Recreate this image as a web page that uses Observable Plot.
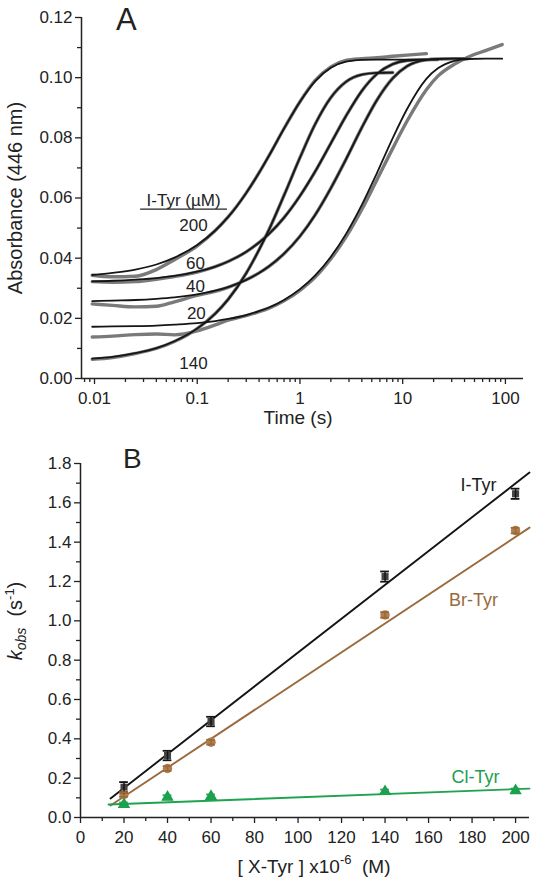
<!DOCTYPE html>
<html><head><meta charset="utf-8">
<script src="https://cdn.jsdelivr.net/npm/d3@7"></script>
<script src="https://cdn.jsdelivr.net/npm/@observablehq/plot@0.6"></script>
<style>
body{margin:0;background:#fff;}
#wrap{position:relative;width:534px;height:884px;overflow:hidden;background:#fff}
#wrap > svg{position:absolute;left:0}
</style></head><body><div id="wrap"></div>
<script>
const FONT = "'Liberation Sans', Arial, Helvetica, sans-serif";

// ---------- Panel A data (time in s, absorbance at 446 nm) ----------
const times = [0.0095, 0.015, 0.025, 0.04, 0.06, 0.1, 0.15, 0.2, 0.3, 0.4, 0.5, 0.7, 1, 1.4, 2, 2.8, 4, 5.6, 8, 11, 17, 22, 32, 43, 64, 93];
const concA = ["200", "140", "60", "40", "20"];
// fitted curves (black)
const fit200 = [0.0344,0.0351,0.0362,0.0379,0.0402,0.0444,0.0492,0.0537,0.0617,0.0684,0.0741,0.0831,0.0920,0.0988,0.1033,0.1053,0.1059,0.1060,0.1060,0.1060,0.1060,null,null,null,null,null];
const fit140 = [0.0066,0.0072,0.0084,0.0101,0.0124,0.0166,0.0216,0.0263,0.0350,0.0428,0.0495,0.0609,0.0734,0.0844,0.0934,0.0986,0.1010,0.1016,0.1017,null,null,null,null,null,null,null];
const fit60  = [0.0323,0.0325,0.0329,0.0334,0.0341,0.0355,0.0372,0.0389,0.0421,0.0452,0.0481,0.0535,0.0607,0.0687,0.0782,0.0872,0.0956,0.1012,0.1045,0.1057,0.1060,0.1060,null,null,null,null];
const fit40  = [0.0257,0.0259,0.0261,0.0265,0.0270,0.0280,0.0292,0.0304,0.0328,0.0351,0.0373,0.0415,0.0473,0.0543,0.0633,0.0728,0.0834,0.0925,0.0998,0.1038,0.1059,0.1062,0.1063,0.1063,null,null];
const fit20  = [0.0172,0.0173,0.0174,0.0176,0.0179,0.0184,0.0191,0.0198,0.0211,0.0224,0.0236,0.0261,0.0297,0.0342,0.0405,0.0480,0.0577,0.0682,0.0799,0.0895,0.0996,0.1031,0.1056,0.1062,0.1063,0.1063];
// measured traces (grey)
const dat200 = [0.0343,0.0338,0.0340,0.0362,0.0395,0.0441,0.0492,0.0537,0.0617,0.0684,0.0741,0.0831,0.0920,0.0990,0.1036,0.1057,0.1063,0.1066,0.1071,0.1075,0.1080,null,null,null,null,null];
const dat140 = [0.0064,0.0070,0.0083,0.0100,0.0123,0.0166,0.0216,0.0263,0.0350,0.0428,0.0495,0.0609,0.0734,0.0844,0.0934,0.0986,0.1010,0.1016,0.1017,null,null,null,null,null,null,null];
const dat60  = [0.0322,0.0320,0.0322,0.0330,0.0339,0.0354,0.0372,0.0389,0.0421,0.0452,0.0481,0.0535,0.0607,0.0687,0.0782,0.0872,0.0956,0.1012,0.1045,0.1057,0.1060,0.1060,null,null,null,null];
const dat40  = [0.0248,0.0243,0.0238,0.0240,0.0255,0.0276,0.0290,0.0303,0.0328,0.0351,0.0373,0.0415,0.0473,0.0543,0.0633,0.0728,0.0834,0.0925,0.0998,0.1038,0.1059,0.1062,0.1063,0.1063,null,null];
const dat20  = [0.0138,0.0141,0.0146,0.0148,0.0145,0.0158,0.0178,0.0194,0.0209,0.0222,0.0234,0.0258,0.0293,0.0336,0.0398,0.0470,0.0562,0.0660,0.0765,0.0855,0.0960,0.1005,0.1045,0.1068,0.1090,0.1110];

const xTicksA = [0.01, 0.1, 1, 10, 100];
const xMinorA = [0.008,0.009,0.02,0.03,0.04,0.05,0.06,0.07,0.08,0.09,0.2,0.3,0.4,0.5,0.6,0.7,0.8,0.9,2,3,4,5,6,7,8,9,20,30,40,50,60,70,80,90];
const yTicksA = [0, 0.02, 0.04, 0.06, 0.08, 0.10, 0.12];
const yMinorA = [0.01, 0.03, 0.05, 0.07, 0.09, 0.11];

// annotation positions (data coordinates) for panel A
const labelsA = [
  {t: 0.092, a: 0.0510, s: "200"},
  {t: 0.096, a: 0.0383, s: "60"},
  {t: 0.096, a: 0.0307, s: "40"},
  {t: 0.098, a: 0.0217, s: "20"},
  {t: 0.092, a: 0.0050, s: "140"}
];
const legendA = {t: 0.0737, a: 0.0593, s: "I-Tyr (\u00B5M)", t1: 0.0281, t2: 0.197, line: 0.0563};

// ---------- Panel B data ----------
const conc = [20, 40, 60, 140, 200];
const kI  = [0.154, 0.315, 0.488, 1.225, 1.646];
const kBr = [0.117, 0.249, 0.383, 1.030, 1.459];
const kCl = [0.066, 0.103, 0.107, 0.132, 0.137];
const eI  = [0.026, 0.024, 0.024, 0.026, 0.026];
const eBr = [0.012, 0.012, 0.012, 0.014, 0.014];
const eCl = [0.010, 0.010, 0.010, 0.010, 0.010];
const fitIx = [13.8, 206.4],  fitIy = [0.097, 1.754];
const fitBrx = [13.8, 206.4], fitBry = [0.061, 1.474];
const fitClx = [12.9, 206.4], fitCly = [0.066, 0.147];
const xTicksB = [0,20,40,60,80,100,120,140,160,180,200];
const xMinorB = [10,30,50,70,90,110,130,150,170,190];
const yTicksB = [0,0.2,0.4,0.6,0.8,1.0,1.2,1.4,1.6,1.8];
const yMinorB = [0.1,0.3,0.5,0.7,0.9,1.1,1.3,1.5,1.7];
const seriesB = ["I-Tyr", "Br-Tyr", "Cl-Tyr"];
const labelsB = [
  {x: 183, y: 1.688, s: "I-Tyr", c: "#1a1a1a"},
  {x: 180.7, y: 1.103, s: "Br-Tyr", c: "#9a6a3c"},
  {x: 181.6, y: 0.206, s: "Cl-Tyr", c: "#1e9e4c"}
];

// ---------- build tables ----------
function rows(list) {
  const out = [];
  for (const [c, vals] of list) vals.forEach((v, i) => out.push({c, t: times[i], a: v}));
  return out;
}
const fitRows = rows([["200", fit200], ["140", fit140], ["60", fit60], ["40", fit40], ["20", fit20]]);
const datRows = rows([["200", dat200], ["140", dat140], ["60", dat60], ["40", dat40], ["20", dat20]]);

const pts = [];
[[seriesB[0], kI, eI], [seriesB[1], kBr, eBr], [seriesB[2], kCl, eCl]].forEach(([s, k, e]) =>
  conc.forEach((x, i) => pts.push({s, x, y: k[i], lo: k[i] - e[i], hi: k[i] + e[i]})));
const fitB = [];
[[seriesB[0], fitIx, fitIy], [seriesB[1], fitBrx, fitBry], [seriesB[2], fitClx, fitCly]].forEach(([s, xs, ys]) =>
  xs.forEach((x, i) => fitB.push({s, x, y: ys[i]})));
const colB = {"I-Tyr": "#151515", "Br-Tyr": "#9a6a3c", "Cl-Tyr": "#1ea34f"};
const fillB = {"I-Tyr": "#444444", "Br-Tyr": "#b37f4c", "Cl-Tyr": "#1a9e4b"};
const symB = {"I-Tyr": "square", "Br-Tyr": "circle", "Cl-Tyr": "triangle"};
const rB = {"I-Tyr": 4.0, "Br-Tyr": 4.7, "Cl-Tyr": 4.6};

const AX = "#222";
const style = {fontFamily: FONT, fontSize: "17px", color: AX, background: "transparent", overflow: "visible"};

const plotA = Plot.plot({
  width: 534, height: 430,
  marginLeft: 81, marginRight: 11, marginTop: 17, marginBottom: 52,
  style,
  x: {type: "log", domain: [0.00747, 150], axis: null},
  y: {domain: [0, 0.12], axis: null},
  marks: [
    Plot.axisY(yTicksA, {tickSize: 6, tickPadding: 3, tickFormat: d3.format(".2f"), label: null, strokeWidth: 1.3}),
    Plot.axisY(yMinorA, {tickSize: 4, tickFormat: () => "", label: null, strokeWidth: 1.3}),
    Plot.axisX(xTicksA, {tickSize: 6, tickPadding: 7, tickFormat: d => String(d), label: null, strokeWidth: 1.3}),
    Plot.axisX(xMinorA, {tickSize: 4, tickFormat: () => "", label: null, strokeWidth: 1.3}),
    Plot.ruleX([0.00747], {y1: 0, y2: 0.12, stroke: AX, strokeWidth: 1.5}),
    Plot.ruleY([0], {stroke: AX, strokeWidth: 1.5}),
    Plot.line(datRows, {x: "t", y: "a", z: "c", curve: "monotone-x", stroke: "#7a7a7a", strokeWidth: 3.4}),
    Plot.line(fitRows, {x: "t", y: "a", z: "c", curve: "monotone-x", stroke: "#151515", strokeWidth: 1.8}),
    Plot.text(labelsA, {x: "t", y: "a", text: "s", fontSize: 17, fill: AX}),
    Plot.text([legendA], {x: "t", y: "a", text: "s", fontSize: 17, fill: AX}),
    Plot.ruleY([legendA.line], {x1: legendA.t1, x2: legendA.t2, stroke: AX, strokeWidth: 1.3})
  ]
});
plotA.style.top = "0px";

const dotMarks = seriesB.map(s => Plot.dot(pts.filter(d => d.s === s), {
  x: "x", y: "y", symbol: symB[s], r: rB[s], fill: fillB[s], stroke: "none"
}));

const plotB = Plot.plot({
  width: 534, height: 454,
  marginLeft: 80, marginRight: 5, marginTop: 33, marginBottom: 67,
  style,
  x: {domain: [0, 206.4], axis: null},
  y: {domain: [0, 1.8], axis: null},
  marks: [
    Plot.axisY(yTicksB, {tickSize: 6, tickPadding: 3, tickFormat: d3.format(".1f"), label: null, strokeWidth: 1.3}),
    Plot.axisY(yMinorB, {tickSize: 4, tickFormat: () => "", label: null, strokeWidth: 1.3}),
    Plot.axisX(xTicksB, {tickSize: 6, tickPadding: 7, tickFormat: d => String(d), label: null, strokeWidth: 1.3}),
    Plot.axisX(xMinorB, {tickSize: 4, tickFormat: () => "", label: null, strokeWidth: 1.3}),
    Plot.ruleX([0], {y1: 0, y2: 1.8, stroke: AX, strokeWidth: 1.5}),
    Plot.ruleY([0], {stroke: AX, strokeWidth: 1.5}),
    Plot.line(fitB, {x: "x", y: "y", z: "s", stroke: d => colB[d.s], strokeWidth: 1.9}),
    ...dotMarks,
    Plot.ruleX(pts, {x: "x", y1: "lo", y2: "hi", stroke: d => colB[d.s], strokeWidth: 1.5}),
    Plot.ruleY(pts, {y: "lo", x1: d => d.x - 2, x2: d => d.x + 2, stroke: d => colB[d.s], strokeWidth: 1.8}),
    Plot.ruleY(pts, {y: "hi", x1: d => d.x - 2, x2: d => d.x + 2, stroke: d => colB[d.s], strokeWidth: 1.8}),
    Plot.text(labelsB, {x: "x", y: "y", text: "s", fill: d => d.c, fontSize: 18})
  ]
});
plotB.style.top = "430px";

const wrap = document.getElementById("wrap");
wrap.appendChild(plotA);
wrap.appendChild(plotB);

// titles and panel letters
const ns = "http://www.w3.org/2000/svg";
const ov = document.createElementNS(ns, "svg");
ov.setAttribute("width", 534); ov.setAttribute("height", 884);
ov.style.top = "0px"; ov.style.pointerEvents = "none";
ov.setAttribute("font-family", FONT); ov.setAttribute("fill", AX);
ov.innerHTML = `
<text x="116" y="30" font-size="31">A</text>
<text x="123" y="468" font-size="28">B</text>
<text transform="translate(22,198) rotate(-90)" text-anchor="middle" font-size="20">Absorbance (446 nm)</text>
<text x="298" y="424" text-anchor="middle" font-size="19">Time (s)</text>
<text transform="translate(22,621) rotate(-90)" text-anchor="middle" font-size="20" style="white-space:pre"><tspan font-style="italic">k</tspan><tspan font-style="italic" font-size="14" dy="4">obs</tspan><tspan dy="-4">  (s</tspan><tspan font-size="13" dy="-8">-1</tspan><tspan dy="8">)</tspan></text>
<text x="314" y="873" text-anchor="middle" font-size="19" style="white-space:pre">[ X-Tyr ] x10<tspan font-size="13" dy="-9">-6</tspan><tspan dy="9">  (M)</tspan></text>`;
wrap.appendChild(ov);
</script></body></html>
